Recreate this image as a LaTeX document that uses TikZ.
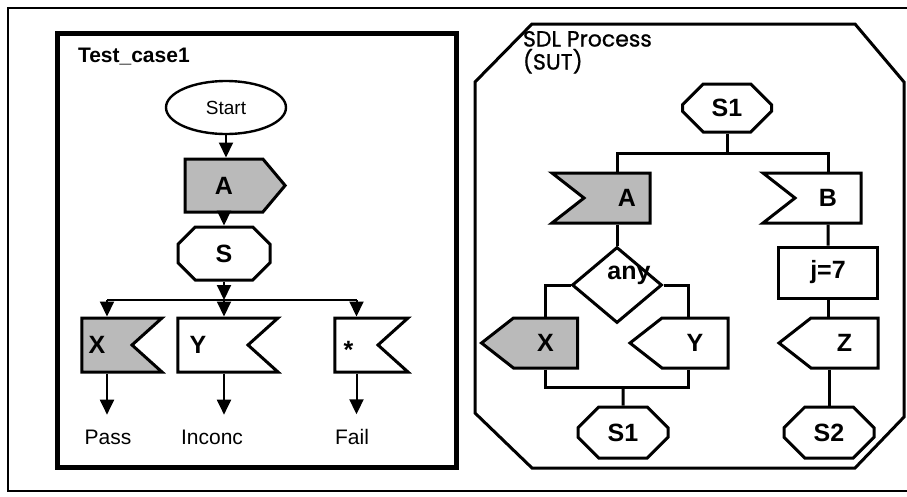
\documentclass[tikz,border=0pt]{standalone}
\usepackage{fontspec}
\setmainfont{Liberation Sans}
\newfontfamily\handfont[FakeBold=1]{Poppins}
\usetikzlibrary{arrows.meta,shapes.geometric,shapes.misc,shapes.symbols}

\tikzset{
  sym/.style={font=\fontsize{25}{28}\selectfont\bfseries},
  shaded/.style={fill=black!27},
  state/.style={draw,line width=3pt,chamfered rectangle,chamfered rectangle sep=12pt,
    inner sep=0pt,sym},
  sendsig/.style={draw,line width=3pt,signal,signal to=east,inner sep=0pt,sym},
  savesig/.style={draw,line width=3pt,signal,signal to=nowhere,signal from=east,
    signal pointer angle=84,inner sep=0pt,minimum height=54pt,sym},
  insig/.style={draw,line width=3pt,signal,signal to=nowhere,signal from=west,
    signal pointer angle=76,inner sep=0pt,minimum height=50pt,sym},
  outsig/.style={draw,line width=3pt,signal,signal to=west,
    signal pointer angle=76,inner sep=0pt,minimum height=50pt,sym},
  verdict/.style={inner xsep=0pt,inner ysep=14pt,font=\fontsize{21}{24}\selectfont},
  link/.style={line width=3pt}
}

\begin{document}
\begin{tikzpicture}[x=1pt,y=-1pt,>={Triangle[length=15pt,width=14pt]},line width=2pt]
\useasboundingbox (0,0) rectangle (907,496);
% outer frame, open on the right
\draw[line width=1.8pt] (907,8) -- (8,8) -- (8,491) -- (907,491);

% test case
\draw[line width=5pt] (57,33) rectangle (456,467);
\node[anchor=base west,inner sep=0pt,font=\fontsize{21}{24}\selectfont\bfseries] (tc) at (77,62) {Test\_case1};
\node[draw,ellipse,line width=2.4pt,minimum width=120pt,minimum height=53pt,inner sep=0pt,
  font=\fontsize{19}{22}\selectfont] (start) at (226,107.5) {Start};
\node[sendsig,shaded,signal pointer angle=100,minimum width=100pt,minimum height=53pt] (snd) at (224,185.5) {A};
\node[state,minimum width=92pt,minimum height=53pt,chamfered rectangle sep=15pt] (s) at (224,253.5) {S};
\coordinate (fork) at (224,300);
\node[savesig,shaded,minimum width=80pt,label={[sym,xshift=-10pt]center:X}] (x1) at (107,345) {};
\node[savesig,minimum width=100pt,label={[sym,xshift=-15pt]center:Y}] (y1) at (213,345) {};
\node[savesig,minimum width=73pt,label={[sym,xshift=-8pt,yshift=-5pt]center:*}] (f1) at (356.5,345) {};
\node[verdict] (pass) at (108,437) {Pass};
\node[verdict] (inconc) at (212,437) {Inconc};
\node[verdict] (fail) at (352,437) {Fail};

\draw[->] (start.south) -- (start.south|-snd.north);
\draw[->] (snd.south) -- (s.north);
\draw[->] (s.south) -- (fork);
\draw (x1.north|-fork) -- (f1.north|-fork);
\draw[->] (x1.north|-fork) -- (x1.north);
\draw[->] (fork) -- (fork|-y1.north);
\draw[->] (f1.north|-fork) -- (f1.north);
\draw[->] (x1.south) -- (x1.south|-pass.north);
\draw[->] (fork|-y1.south) -- (fork|-inconc.north);
\draw[->] (f1.south) -- (f1.south|-fail.north);

% SDL process
\draw[line width=3pt] (532,24) -- (855,24) -- (904,82) -- (904,417) -- (855,468)
  -- (532,468) -- (475,413) -- (475,82) -- cycle;
\node[anchor=north west,align=left,inner sep=0pt,font=\handfont\fontsize{22}{23}\selectfont] (sdl) at (522,30) {SDL Process\\(SUT)};
\node[state,minimum width=89pt,minimum height=48pt] (s1t) at (727,108) {S1};
\coordinate (split) at (727,153);
\node[insig,shaded,minimum width=98pt,label={[sym,xshift=10pt]center:A}] (ain) at (617,198) {};
\node[insig,minimum width=98pt] (bin) at (828,198) {B};
\node[diamond,draw,line width=3pt,minimum width=90pt,minimum height=76pt,inner sep=0pt,
  label={[sym,xshift=12pt,yshift=10pt]center:any}] (dia) at (617,285) {};
\node[draw,line width=3pt,minimum width=99pt,minimum height=51pt,inner sep=0pt,sym] (j7) at (828,272.5) {j=7};
\node[outsig,shaded,minimum width=96pt] (xout) at (545.5,343) {X};
\node[outsig,minimum width=98pt] (yout) at (695,343) {Y};
\node[outsig,minimum width=99pt] (zout) at (844.5,343) {Z};
\coordinate (join) at (623,387);
\node[state,minimum width=90pt,minimum height=51pt] (s1b) at (623,432.5) {S1};
\node[state,minimum width=90pt,minimum height=51pt] (s2) at (829,432.5) {S2};

\draw[link] (s1t) -- (split);
\draw[link] (ain.north) |- (split) -| (bin.north);
\draw[link] (ain) -- (dia);
\draw[link] (dia.west) -| (xout.north);
\draw[link] (dia.east) -| ([xshift=-7pt]yout.north);
\draw[link] (xout.south) |- (join) -| ([xshift=-7pt]yout.south);
\draw[link] (join) -- (s1b);
\draw[link] (bin) -- (j7);
\draw[link] (j7.south) -- (j7.south|-zout.north);
\draw[link] (s2.north|-zout.south) -- (s2.north);
\end{tikzpicture}
\end{document}
